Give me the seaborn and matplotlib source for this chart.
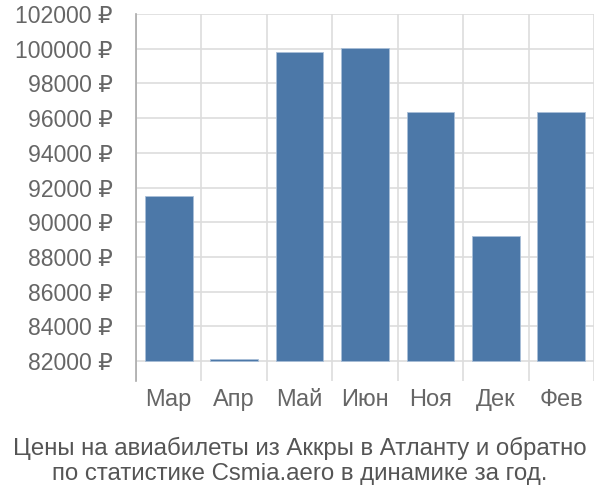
import matplotlib
matplotlib.use("Agg")
import matplotlib.pyplot as plt
import matplotlib.ticker as mticker
import seaborn as sns
import pandas as pd
import numpy as np

# data
months = ["Мар", "Апр", "Май", "Июн", "Ноя", "Дек", "Фев"]
prices = [91540, 82100, 99790, 100060, 96350, 89200, 96350]
base = 82000
yticks = list(range(82000, 102001, 2000))

sns.set_style("white")
plt.rcParams['font.family'] = ['Liberation Sans', 'DejaVu Sans']

df = pd.DataFrame({"month": months, "height": np.array(prices) - base})

fig = plt.figure(figsize=(6, 5), dpi=100)
ax = fig.add_axes([0.2267, 0.238, 0.7633, 0.734])

sns.barplot(data=df, x="month", y="height", bottom=base, color="#4c78a8",
            saturation=1, width=0.73, edgecolor="#a9bfd8", linewidth=0.6,
            errorbar=None, ax=ax, zorder=3)

ax.set_xlim(-0.5, 6.5)
ax.set_ylim(80850, 102000)
ax.set_yticks(yticks)
ax.yaxis.set_major_formatter(mticker.FuncFormatter(lambda v, p: f"{int(v)} ₽"))
ax.xaxis.set_minor_locator(mticker.FixedLocator(np.arange(-0.5, 7, 1)))
ax.grid(axis="y", which="major", color="#dddddd", linewidth=1.2, zorder=0)
ax.grid(axis="x", which="minor", color="#dddddd", linewidth=1.2, zorder=0)
ax.set_axisbelow(True)
for s in ["top", "right", "bottom"]:
    ax.spines[s].set_visible(False)
ax.spines["left"].set_color("#aaaaaa")
ax.spines["left"].set_linewidth(1.2)

ax.tick_params(axis="y", which="major", length=13.7, color="#dddddd", width=1.2,
               labelsize=16.6, labelcolor="#666666", pad=3)
ax.tick_params(axis="x", which="major", length=0, labelsize=17,
               labelcolor="#666666", pad=6)
ax.tick_params(axis="x", which="minor", length=0)
ax.set_xlabel("")
ax.set_ylabel("")

fig.text(0.5, 0.078, "Цены на авиабилеты из Аккры в Атланту и обратно\nпо статистике Csmia.aero в динамике за год.",
         ha="center", va="center", fontsize=17.3, color="#555555", linespacing=1.2)

fig.savefig("out.png", dpi=100)
